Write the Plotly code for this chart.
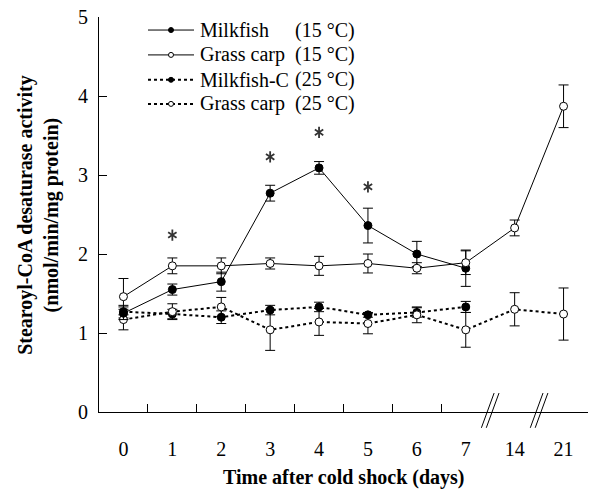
import plotly.graph_objects as go

days = ["0", "1", "2", "3", "4", "5", "6", "7", "14", "21"]
pos = list(range(len(days)))

mf15 = [1.25, 1.55, 1.65, 2.77, 3.09, 2.36, 2.00, 1.82]
mf15_err = [0.08, 0.07, 0.12, 0.10, 0.08, 0.22, 0.16, 0.23]

gc15 = [1.46, 1.85, 1.85, 1.88, 1.85, 1.88, 1.82, 1.89, 2.33, 3.87]
gc15_err = [0.23, 0.10, 0.10, 0.07, 0.12, 0.12, 0.07, 0.15, 0.10, 0.27]

mf25 = [1.27, 1.24, 1.20, 1.29, 1.33, 1.23, 1.26, 1.33]
mf25_err = [0.08, 0.06, 0.08, 0.06, 0.06, 0.03, 0.06, 0.07]

gc25 = [1.17, 1.27, 1.33, 1.04, 1.14, 1.12, 1.23, 1.04, 1.30, 1.24]
gc25_err = [0.13, 0.10, 0.12, 0.26, 0.17, 0.13, 0.10, 0.22, 0.21, 0.33]

sig_days = [1, 3, 4, 5]
sig_y = [2.24, 3.23, 3.54, 2.85]

legend_names = ["Milkfish", "Grass carp", "Milkfish-C", "Grass carp"]
legend_temps = ["(15 °C)", "(15 °C)", "(25 °C)", "(25 °C)"]

FONT = "'Liberation Serif', 'Times New Roman', Times, serif"
fig = go.Figure()

def add(y, err, filled, dashed, n):
    fig.add_trace(go.Scatter(
        x=pos[:n], y=y, mode="lines+markers",
        line=dict(color="black", width=2 if dashed else 1, dash="dot" if dashed else "solid"),
        marker=dict(size=8, color="black" if filled else "white",
                    line=dict(color="black", width=1), symbol="circle"),
        error_y=dict(type="data", array=err, color="black", thickness=1, width=5),
        showlegend=False))

add(mf25, mf25_err, True, True, len(mf25))
add(gc25, gc25_err, False, True, len(gc25))
add(mf15, mf15_err, True, False, len(mf15))
add(gc15, gc15_err, False, False, len(gc15))

# significance asterisks (six-armed, built from two Y symbols)
for sym in ["y-up-open", "y-down-open"]:
    fig.add_trace(go.Scatter(x=sig_days, y=sig_y, mode="markers",
                             marker=dict(symbol=sym, size=7, color="#333333",
                                         line=dict(color="#333333", width=1.8)),
                             showlegend=False, hoverinfo="skip"))

# invisible trace on xaxis2 for boundary ticks
fig.add_trace(go.Scatter(x=[0], y=[0], xaxis="x2", mode="markers",
                         marker=dict(opacity=0), showlegend=False, hoverinfo="skip"))

# custom legend
leg_y = [0.967, 0.904, 0.841, 0.780]
for i, (nm, tp) in enumerate(zip(legend_names, legend_temps)):
    dashed = i >= 2
    filled = i % 2 == 0
    fig.add_shape(type="line", xref="paper", yref="paper",
                  x0=(148 - 99) / 489, x1=(194 - 99) / 489, y0=leg_y[i], y1=leg_y[i],
                  line=dict(color="black", width=2 if dashed else 1, dash="dot" if dashed else "solid"))
    xc = (171 - 99) / 489
    fig.add_shape(type="circle", xref="paper", yref="paper", xsizemode="pixel", ysizemode="pixel",
                  xanchor=xc, yanchor=leg_y[i], x0=-2.5, x1=2.5, y0=-2.5, y1=2.5,
                  fillcolor="black" if filled else "white", line=dict(color="black", width=1))
    fig.add_annotation(xref="paper", yref="paper", x=(198 - 99) / 489, y=leg_y[i],
                       text=nm, showarrow=False, xanchor="left", yanchor="middle",
                       font=dict(family=FONT, size=20, color="black"))
    fig.add_annotation(xref="paper", yref="paper", x=(293 - 99) / 489, y=leg_y[i],
                       text=tp, showarrow=False, xanchor="left", yanchor="middle",
                       font=dict(family=FONT, size=20, color="black"))

# axis break marks
for bx in [7.5, 8.5]:
    for off in [-0.05, 0.05]:
        fig.add_shape(type="line", xref="x", yref="paper",
                      x0=bx + off - 0.13, x1=bx + off + 0.13, y0=-0.04, y1=0.048,
                      line=dict(color="black", width=1))

fig.add_annotation(xref="paper", yref="paper", x=-0.124, y=0.5,
                   text="<b>Stearoyl-CoA desaturase activity<br>(nmol/min/mg protein)</b>",
                   textangle=-90, showarrow=False, xanchor="center", yanchor="middle",
                   font=dict(family=FONT, size=20, color="black"))
fig.add_annotation(xref="paper", yref="paper", x=0.5, y=-0.167,
                   text="<b>Time after cold shock (days)</b>", showarrow=False,
                   xanchor="center", yanchor="middle",
                   font=dict(family=FONT, size=20, color="black"))

fig.update_layout(
    width=592, height=491,
    margin=dict(l=99, r=4, t=17, b=79),
    paper_bgcolor="white", plot_bgcolor="white",
    font=dict(family=FONT, color="black"),
    xaxis=dict(range=[-0.5, 9.5], tickvals=pos, ticktext=days, ticks="",
               showline=True, linecolor="black", linewidth=1, showgrid=False, zeroline=False,
               tickfont=dict(family=FONT, size=20, color="black"), ticklabelstandoff=19),
    xaxis2=dict(range=[-0.5, 9.5], overlaying="x", side="bottom", anchor="y",
                tickvals=[0.5, 1.5, 2.5, 3.5, 4.5, 5.5, 6.5, 9.5], ticks="inside",
                ticklen=8, tickcolor="black", showticklabels=False, showgrid=False,
                zeroline=False, showline=False),
    yaxis=dict(range=[0, 5], tickvals=[0, 1, 2, 3, 4, 5], ticks="inside", ticklen=8,
               tickcolor="black", showline=True, linecolor="black", linewidth=1,
               showgrid=False, zeroline=False,
               tickfont=dict(family=FONT, size=20, color="black"), ticklabelstandoff=6),
)

fig.write_html("out.html")
